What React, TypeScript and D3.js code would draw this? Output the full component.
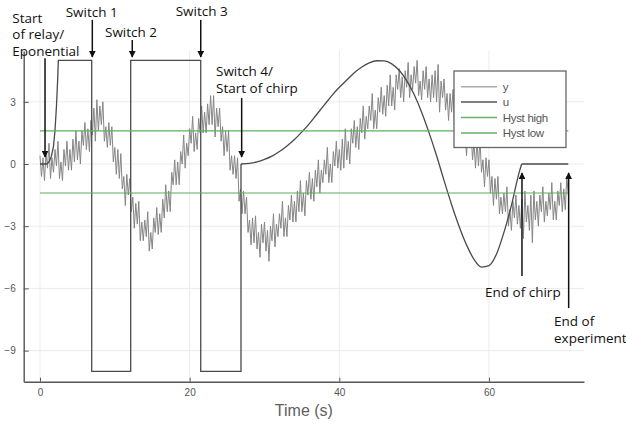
import * as d3 from 'd3';
import React, { useEffect, useRef } from 'react';

const ySampleStep = 0.2;
const yValues = [
  0.4, -0.6, 0.3, -0.8, 0.6, -0.2, 1.0, -0.7, 0.3, -0.4,
  0.7, -0.1, 1.1, -0.7, 0.1, -0.8, 0.7, -0.1, 1.1, -0.3,
  0.7, -0.3, 1.2, 0.1, 1.6, 0.2, 1.1, 0.0, 1.6, 0.9,
  2.0, 0.7, 1.7, 0.6, 2.1, 1.4, 2.7, 1.1, 3.1, 1.6,
  2.8, 1.9, 3.0, 1.1, 1.8, 0.8, 2.0, 0.9, 1.8, 0.1,
  0.8, -0.5, 0.7, -0.7, 0.5, -1.2, -0.6, -2.0, -0.5, -1.5,
  -0.7, -2.3, -1.6, -3.1, -1.9, -2.9, -1.8, -3.7, -2.8, -3.7,
  -2.7, -3.5, -2.3, -4.2, -3.3, -4.1, -2.6, -3.3, -2.1, -3.4,
  -2.4, -3.3, -1.7, -2.6, -1.0, -2.3, -1.3, -2.3, -0.4, -1.0,
  0.2, -1.0, 0.1, -1.0, 0.6, 0.0, 1.4, -0.2, 1.0, 0.4,
  1.7, 1.0, 2.3, 0.6, 1.5, 0.7, 2.2, 1.5, 2.8, 1.5,
  2.5, 1.5, 2.9, 1.9, 3.3, 1.9, 3.3, 1.3, 2.7, 1.8,
  2.7, 1.1, 1.8, 0.4, 1.6, 0.6, 1.6, -0.3, 0.4, -0.5,
  0.4, -0.7, 0.3, -1.8, -1.2, -2.4, -1.3, -2.4, -1.6, -3.3,
  -2.7, -3.9, -2.6, -3.8, -2.5, -4.1, -3.3, -4.5, -2.9, -3.8,
  -2.8, -4.2, -3.2, -4.7, -3.0, -3.7, -2.4, -4.0, -2.9, -3.5,
  -2.4, -3.1, -1.8, -3.5, -2.6, -3.5, -2.0, -2.7, -1.5, -2.8,
  -1.8, -2.8, -1.3, -2.3, -0.8, -2.3, -1.4, -2.5, -0.8, -1.5,
  -0.4, -1.7, -0.7, -1.8, -0.3, -1.1, 0.2, -1.4, -0.3, -0.9,
  0.2, -0.5, 0.8, -0.9, 0.0, -0.9, 0.6, -0.1, 1.1, -0.2,
  0.7, -0.3, 1.2, -0.2, 1.7, 0.2, 1.1, 0.0, 1.7, 1.0,
  2.1, 0.8, 1.8, 0.7, 2.2, 1.5, 2.8, 1.2, 2.3, 1.7,
  2.8, 2.1, 3.4, 1.7, 2.6, 1.7, 3.2, 2.5, 3.7, 2.4,
  3.3, 2.3, 3.8, 2.8, 4.3, 2.8, 3.7, 2.6, 4.3, 3.6,
  4.6, 3.2, 4.2, 3.0, 4.5, 3.7, 4.9, 3.2, 4.3, 3.6,
  4.7, 3.9, 5.0, 3.3, 4.0, 3.1, 4.5, 3.6, 4.7, 3.2,
  4.1, 3.0, 4.3, 3.2, 4.5, 3.0, 4.8, 2.5, 4.0, 3.2,
  4.1, 2.6, 3.4, 2.1, 3.4, 2.5, 3.6, 1.7, 2.6, 1.7,
  2.7, 1.7, 2.8, 0.8, 1.5, 0.4, 1.7, 0.8, 1.7, 0.2,
  1.0, -0.2, 1.1, -0.1, 1.2, -0.4, 0.2, -1.1, 0.3, -0.6,
  0.2, -1.4, -0.6, -2.0, -0.7, -1.7, -0.6, -2.4, -1.6, -2.4,
  -1.4, -2.3, -1.1, -3.0, -2.2, -3.2, -1.8, -2.6, -1.5, -2.9,
  -2.0, -3.1, -1.7, -3.6, -1.3, -2.8, -2.0, -3.2, -1.5, -3.8,
  -1.3, -2.7, -1.8, -3.0, -1.5, -2.3, -1.1, -2.8, -1.8, -2.5,
  -1.4, -2.2, -0.9, -2.7, -1.8, -2.7, -1.3, -2.0, -0.9, -2.3,
  -1.2, -2.2, -0.6, -1.5,
];

// input u: relay part (exponential start + switches)
const uRelayT = [0, 0.9, 1.2, 1.5, 1.8, 2.0, 2.2, 2.35, 2.45, 6.91, 6.91, 12.12, 12.12, 21.48, 21.48, 26.86, 26.86];
const uRelayV = [0, 0, 0.1, 0.35, 0.85, 1.6, 2.8, 4.0, 5, 5, -10, -10, 5, 5, -10, -10, 0];

// input u: chirp part
const uChirpT = [26.86, 28, 29, 30, 31, 32, 33, 34, 35, 36, 37, 38, 39, 40, 41, 42, 43, 44, 45, 46,
  47, 48, 49, 50, 51, 52, 53, 54, 55, 56, 57, 58, 59, 60, 61, 62, 63, 64, 64.37];
const uChirpV = [0, 0.03, 0.1, 0.22, 0.38, 0.6, 0.87, 1.18, 1.55, 1.95, 2.4, 2.85, 3.3, 3.7, 4.05, 4.4,
  4.68, 4.88, 4.98, 4.97, 4.83, 4.52, 4.02, 3.35, 2.5, 1.5, 0.4, -0.8, -1.95, -3.0, -3.9, -4.6,
  -4.97, -4.9, -4.35, -3.3, -2.0, -0.45, 0];

const uTailT = [64.37, 70.6];
const uTailV = [0, 0];

const hystHigh = 1.6;
const hystLow = -1.4;
const hystRange = [0, 70.6];

const xTicks = [0, 20, 40, 60];
const yTicks = [3, 0, -3, -6, -9];

const legendLabels = ['y', 'u', 'Hyst high', 'Hyst low'];
const legendColors = ['#aaaaaa', '#555555', '#66b266', '#66b266'];

const annotations = [
  { lines: ['Start', 'of relay/', 'Eponential'], tx: 12.3, ty: 22.7, t: 0.67, from: 5.1, to: 0.34 },
  { lines: ['Switch 1'], tx: 65.7, ty: 16.7, t: 6.99, from: 6.95, to: 5.16 },
  { lines: ['Switch 2'], tx: 105, ty: 37.3, t: 12.33, from: 5.98, to: 5.16 },
  { lines: ['Switch 3'], tx: 175.7, ty: 15.7, t: 21.48, from: 6.95, to: 5.16 },
  { lines: ['Switch 4/', 'Start of chirp'], tx: 216, ty: 76, t: 26.95, from: 3.18, to: 0.34 },
  { lines: ['End of chirp'], tx: 485, ty: 297, t: 64.41, from: -5.4, to: -0.43 },
  { lines: ['End of', 'experiment'], tx: 554, ty: 326, t: 70.65, from: -6.95, to: -0.43 },
];

const App: React.FC = () => {
  const svgRef = useRef<SVGSVGElement | null>(null);

  useEffect(() => {
    if (!svgRef.current) return;

    const width = 626;
    const height = 424;
    const margin = { top: 51, right: 42, bottom: 42.3, left: 23.7 };

    const svg = d3.select(svgRef.current);
    svg.selectAll('*').remove();

    const x = d3.scaleLinear().domain([-2.18, 72.7]).range([margin.left, width - margin.right]);
    const y = d3.scaleLinear().domain([-10.5, 5.45]).range([height - margin.bottom, margin.top]);

    const defs = svg.append('defs');
    defs
      .append('marker')
      .attr('id', 'arrowhead')
      .attr('viewBox', '0 0 10 10')
      .attr('refX', 9)
      .attr('refY', 5)
      .attr('markerWidth', 4.6)
      .attr('markerHeight', 4.6)
      .attr('orient', 'auto')
      .append('path')
      .attr('d', 'M0,0 L10,5 L0,10 z')
      .attr('fill', '#111');

    // grid
    svg
      .append('g')
      .selectAll('line')
      .data(xTicks)
      .enter()
      .append('line')
      .attr('x1', (d) => x(d))
      .attr('x2', (d) => x(d))
      .attr('y1', margin.top)
      .attr('y2', height - margin.bottom)
      .attr('stroke', '#ebebeb');
    svg
      .append('g')
      .selectAll('line')
      .data(yTicks)
      .enter()
      .append('line')
      .attr('x1', margin.left)
      .attr('x2', width - margin.right)
      .attr('y1', (d) => y(d))
      .attr('y2', (d) => y(d))
      .attr('stroke', '#ebebeb');

    // axes
    const xAxis = svg
      .append('g')
      .attr('transform', `translate(0, ${height - margin.bottom})`)
      .call(d3.axisBottom(x).tickValues(xTicks).tickSizeInner(-4).tickSizeOuter(0).tickPadding(7.3));
    const yAxis = svg
      .append('g')
      .attr('transform', `translate(${margin.left}, 0)`)
      .call(d3.axisLeft(y).tickValues(yTicks).tickSizeInner(-5).tickSizeOuter(0).tickPadding(8));
    [xAxis, yAxis].forEach((g) => {
      g.attr('font-family', 'Liberation Sans, Arial, sans-serif').attr('font-size', 10);
      g.select('.domain').attr('stroke', '#555').attr('stroke-width', 1.4);
      g.selectAll('.tick line').attr('stroke', '#555');
      g.selectAll('.tick text').attr('fill', '#555');
    });

    svg
      .append('text')
      .attr('x', (margin.left + width - margin.right) / 2)
      .attr('y', 416)
      .attr('text-anchor', 'middle')
      .attr('font-family', 'Liberation Sans, Arial, sans-serif')
      .attr('font-size', 16)
      .attr('fill', '#606060')
      .text('Time (s)');

    // y series
    const yLine = d3
      .line<number>()
      .x((_, i) => x(i * ySampleStep))
      .y((d) => y(d));
    svg
      .append('path')
      .datum(yValues)
      .attr('d', yLine)
      .attr('fill', 'none')
      .attr('stroke', '#858585')
      .attr('stroke-width', 1);

    // u series
    const pts = (ts: number[], vs: number[]) => ts.map((t, i) => [t, vs[i]] as [number, number]);
    const uLine = d3
      .line<[number, number]>()
      .x((d) => x(d[0]))
      .y((d) => y(d[1]));
    const uStyle = (p: d3.Selection<SVGPathElement, any, any, any>) =>
      p.attr('fill', 'none').attr('stroke', '#4a4a4a').attr('stroke-width', 1.3);
    svg.append('path').datum(pts(uRelayT, uRelayV)).attr('d', uLine).call(uStyle);
    svg
      .append('path')
      .datum(pts(uChirpT, uChirpV))
      .attr('d', uLine.curve(d3.curveMonotoneX))
      .call(uStyle);
    svg
      .append('path')
      .datum(pts(uTailT, uTailV))
      .attr('d', uLine.curve(d3.curveLinear))
      .call(uStyle);

    // hysteresis
    [hystHigh, hystLow].forEach((h) => {
      svg
        .append('line')
        .attr('x1', x(hystRange[0]))
        .attr('x2', x(hystRange[1]))
        .attr('y1', y(h))
        .attr('y2', y(h))
        .attr('stroke', '#5fae5f')
        .attr('stroke-width', 1.2);
    });

    // legend
    const legend = svg.append('g').attr('transform', 'translate(454, 71)');
    legend
      .append('rect')
      .attr('width', 112)
      .attr('height', 76.5)
      .attr('fill', 'white')
      .attr('stroke', '#666')
      .attr('stroke-width', 1.3);
    legendLabels.forEach((label, i) => {
      const ly = 15.7 + i * 15.4;
      legend
        .append('line')
        .attr('x1', 7)
        .attr('x2', 43)
        .attr('y1', ly)
        .attr('y2', ly)
        .attr('stroke', legendColors[i])
        .attr('stroke-width', 1.5);
      legend
        .append('text')
        .attr('x', 48.7)
        .attr('y', ly)
        .attr('dy', '0.35em')
        .attr('font-family', 'Liberation Sans, Arial, sans-serif')
        .attr('font-size', 11.5)
        .attr('letter-spacing', -0.3)
        .attr('fill', '#555')
        .text(label);
    });

    // annotations
    annotations.forEach((a) => {
      svg
        .append('line')
        .attr('x1', x(a.t))
        .attr('x2', x(a.t))
        .attr('y1', y(a.from))
        .attr('y2', y(a.to))
        .attr('stroke', '#111')
        .attr('stroke-width', 1.5)
        .attr('marker-end', 'url(#arrowhead)');
      const text = svg
        .append('text')
        .attr('font-family', 'Open Sans, Noto Sans, sans-serif')
        .attr('font-size', 13.5)
        .attr('fill', '#111');
      a.lines.forEach((line, i) => {
        text
          .append('tspan')
          .attr('x', a.tx)
          .attr('y', a.ty + i * 16.5)
          .text(line);
      });
    });
  }, []);

  return (
    <svg
      ref={svgRef}
      width={626}
      height={424}
      style={{ position: 'absolute', left: 0, top: 0, background: 'white' }}
    />
  );
};

export default App;
